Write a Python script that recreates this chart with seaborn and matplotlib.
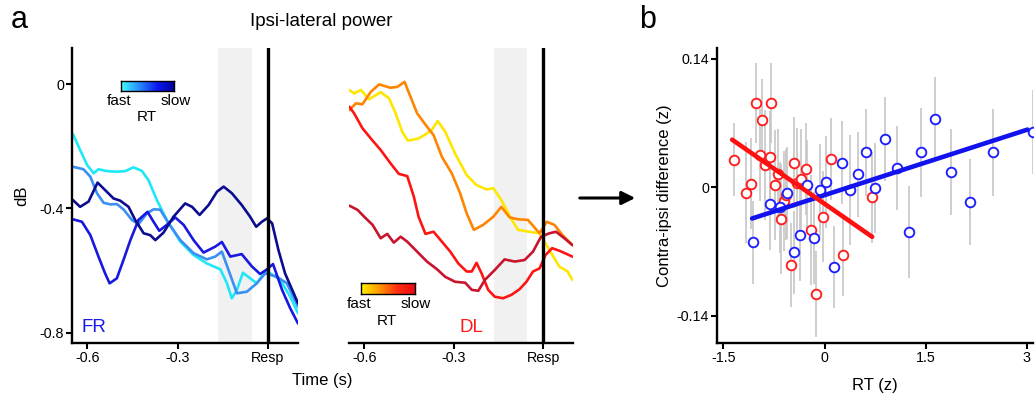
import numpy as np
import pandas as pd
import matplotlib
matplotlib.use("Agg")
import matplotlib.pyplot as plt
from matplotlib.colors import LinearSegmentedColormap
import seaborn as sns

sns.set_style("ticks")
plt.rcParams["font.family"] = ["Liberation Sans", "DejaVu Sans"]
plt.rcParams["axes.unicode_minus"] = False
for key in ["text.color", "axes.labelcolor", "xtick.color", "ytick.color", "axes.edgecolor"]:
    plt.rcParams[key] = "black"

# ---------------- ipsi-lateral power, FR (4 RT bins, fast -> slow) ----------------
fr_t1 = [-0.648, -0.624, -0.601, -0.579, -0.563, -0.535, -0.502, -0.474, -0.447, -0.419,
         -0.397, -0.369, -0.336, -0.291, -0.247, -0.203, -0.158, -0.136, -0.120, -0.103,
         -0.083, -0.059, -0.037, -0.009, 0.008, 0.041, 0.074, 0.100]
fr_db1 = [-0.161, -0.212, -0.260, -0.287, -0.274, -0.280, -0.282, -0.280, -0.268, -0.279,
          -0.309, -0.373, -0.437, -0.507, -0.550, -0.577, -0.596, -0.641, -0.689, -0.662,
          -0.607, -0.625, -0.641, -0.603, -0.609, -0.630, -0.684, -0.737]

fr_t2 = [-0.648, -0.613, -0.590, -0.568, -0.546, -0.524, -0.502, -0.480, -0.452, -0.430,
         -0.402, -0.380, -0.358, -0.330, -0.291, -0.247, -0.203, -0.175, -0.153, -0.131,
         -0.103, -0.070, -0.037, -0.009, 0.030, 0.063, 0.100]
fr_db2 = [-0.266, -0.274, -0.298, -0.351, -0.382, -0.387, -0.386, -0.403, -0.437, -0.451,
          -0.416, -0.403, -0.404, -0.448, -0.502, -0.544, -0.564, -0.555, -0.539, -0.598,
          -0.673, -0.668, -0.641, -0.609, -0.620, -0.641, -0.716]

fr_t3 = [-0.648, -0.618, -0.590, -0.563, -0.541, -0.526, -0.502, -0.480, -0.457, -0.430,
         -0.400, -0.380, -0.361, -0.336, -0.308, -0.280, -0.247, -0.214, -0.175, -0.153,
         -0.125, -0.087, -0.053, -0.026, -0.003, 0.017, 0.047, 0.074, 0.100]
fr_db3 = [-0.435, -0.443, -0.486, -0.555, -0.609, -0.641, -0.625, -0.566, -0.502, -0.437,
          -0.411, -0.443, -0.472, -0.453, -0.429, -0.453, -0.502, -0.542, -0.523, -0.508,
          -0.555, -0.547, -0.587, -0.611, -0.596, -0.579, -0.662, -0.721, -0.770]

fr_t4 = [-0.648, -0.624, -0.596, -0.566, -0.541, -0.513, -0.491, -0.463, -0.441, -0.413,
         -0.391, -0.374, -0.347, -0.314, -0.275, -0.252, -0.227, -0.197, -0.169, -0.147,
         -0.120, -0.087, -0.059, -0.039, -0.020, -0.003, 0.014, 0.035, 0.057, 0.100]
fr_db4 = [-0.373, -0.395, -0.378, -0.317, -0.341, -0.368, -0.375, -0.395, -0.437, -0.480,
          -0.486, -0.502, -0.478, -0.427, -0.384, -0.395, -0.421, -0.389, -0.346, -0.330,
          -0.351, -0.389, -0.427, -0.459, -0.443, -0.432, -0.448, -0.534, -0.609, -0.705]

# ---------------- ipsi-lateral power, DL (4 RT bins, fast -> slow) ----------------
dl_t1 = [-0.650, -0.634, -0.611, -0.584, -0.545, -0.517, -0.495, -0.473, -0.454, -0.418,
         -0.390, -0.373, -0.354, -0.329, -0.296, -0.257, -0.224, -0.190, -0.168, -0.141,
         -0.107, -0.085, -0.047, -0.013, 0.020, 0.053, 0.081, 0.097]
dl_db1 = [-0.019, -0.030, -0.019, -0.049, -0.026, -0.046, -0.094, -0.153, -0.182, -0.175,
          -0.159, -0.146, -0.119, -0.153, -0.223, -0.293, -0.325, -0.339, -0.335, -0.373,
          -0.435, -0.469, -0.475, -0.480, -0.534, -0.587, -0.603, -0.630]

dl_t2 = [-0.650, -0.628, -0.606, -0.578, -0.550, -0.512, -0.489, -0.465, -0.445, -0.423,
         -0.390, -0.368, -0.340, -0.307, -0.279, -0.257, -0.233, -0.202, -0.168, -0.141,
         -0.113, -0.085, -0.052, -0.013, 0.011, 0.037, 0.064, 0.097]
dl_db2 = [-0.084, -0.062, -0.065, -0.025, -0.001, -0.012, -0.009, 0.007, -0.041, -0.094,
          -0.137, -0.164, -0.234, -0.287, -0.351, -0.416, -0.469, -0.453, -0.427, -0.395,
          -0.429, -0.435, -0.437, -0.480, -0.443, -0.453, -0.486, -0.518]

dl_t3 = [-0.650, -0.634, -0.606, -0.578, -0.545, -0.512, -0.484, -0.456, -0.434, -0.418,
         -0.395, -0.368, -0.340, -0.312, -0.285, -0.257, -0.240, -0.224, -0.207, -0.185,
         -0.163, -0.135, -0.107, -0.080, -0.057, -0.035, -0.013, 0.007, 0.029, 0.053, 0.097]
dl_db3 = [-0.073, -0.094, -0.142, -0.175, -0.212, -0.255, -0.289, -0.296, -0.362, -0.427,
          -0.482, -0.475, -0.507, -0.539, -0.577, -0.603, -0.603, -0.575, -0.609, -0.662,
          -0.684, -0.689, -0.678, -0.660, -0.636, -0.603, -0.593, -0.550, -0.528, -0.536, -0.555]

dl_t4 = [-0.650, -0.622, -0.600, -0.572, -0.545, -0.523, -0.501, -0.478, -0.456, -0.423,
         -0.390, -0.356, -0.329, -0.296, -0.262, -0.240, -0.218, -0.196, -0.163, -0.130,
         -0.096, -0.063, -0.035, -0.008, 0.020, 0.042, 0.070, 0.097]
dl_db4 = [-0.391, -0.405, -0.427, -0.453, -0.496, -0.482, -0.510, -0.491, -0.507, -0.539,
          -0.571, -0.596, -0.620, -0.636, -0.639, -0.662, -0.665, -0.630, -0.598, -0.564,
          -0.571, -0.566, -0.539, -0.491, -0.480, -0.475, -0.496, -0.518]

rt_bins = ["1", "2", "3", "4"]
fr_colors = ["#1EE8F8", "#3A8FF2", "#1818E0", "#0C0C8E"]
dl_colors = ["#FFE600", "#FF8400", "#FF1414", "#C8142C"]

window_start, window_end = -0.166, -0.054
time_ticks = [-0.6, -0.3, 0.0]
time_ticklabels = ["-0.6", "-0.3", "Resp"]
db_ticks = [0.0, -0.4, -0.8]
db_ticklabels = ["0", "-0.4", "-0.8"]

# ---------------- contra-ipsi difference vs RT ----------------
red_rt = [-1.346, -1.169, -1.084, -1.010, -0.922, -0.961, -0.877, -0.814, -0.788, -0.729,
          -0.690, -0.651, -0.600, -0.567, -0.503, -0.453, -0.404, -0.345, -0.281, -0.207,
          -0.133, -0.024, 0.089, 0.272, 0.706]
red_diff = [0.030, -0.006, 0.004, 0.092, 0.073, 0.035, 0.024, 0.033, 0.092, 0.002,
            0.014, -0.035, -0.015, -0.008, -0.085, 0.027, 0.005, 0.009, 0.020, -0.047,
            -0.116, -0.032, 0.031, -0.074, -0.011]
red_err = [0.040, 0.055, 0.050, 0.044, 0.045, 0.050, 0.060, 0.050, 0.044, 0.060,
           0.050, 0.060, 0.055, 0.050, 0.046, 0.050, 0.060, 0.055, 0.050, 0.060,
           0.047, 0.050, 0.045, 0.045, 0.050]

blue_rt = [-1.059, -0.803, -0.666, -0.556, -0.459, -0.370, -0.260, -0.163, -0.064, 0.025,
           0.139, 0.257, 0.370, 0.494, 0.621, 0.754, 0.902, 1.075, 1.248, 1.430,
           1.642, 1.874, 2.160, 2.496, 3.097]
blue_diff = [-0.060, -0.018, -0.022, -0.006, -0.071, -0.052, 0.002, -0.055, -0.003, 0.006,
             -0.087, 0.027, -0.003, 0.014, 0.038, -0.001, 0.053, 0.021, -0.049, 0.038,
             0.075, 0.017, -0.016, 0.038, 0.060]
blue_err = [0.045, 0.050, 0.050, 0.050, 0.045, 0.050, 0.050, 0.050, 0.050, 0.050,
            0.045, 0.045, 0.060, 0.046, 0.047, 0.049, 0.046, 0.046, 0.050, 0.049,
            0.045, 0.047, 0.047, 0.047, 0.046]

red_fit_rt = [-1.370, 0.706]
red_fit_diff = [0.052, -0.054]
blue_fit_rt = [-1.074, 3.009]
blue_fit_diff = [-0.034, 0.063]

rt_ticks = [-1.5, 0.0, 1.5, 3.0]
rt_ticklabels = ["-1.5", "0", "1.5", "3"]
diff_ticks = [0.14, 0.0, -0.14]
diff_ticklabels = ["0.14", "0", "-0.14"]


def long_form(times, values):
    frames = []
    for b, t, v in zip(rt_bins, times, values):
        frames.append(pd.DataFrame({"time": t, "db": v, "rt_bin": b}))
    return pd.concat(frames, ignore_index=True)


fr_df = long_form([fr_t1, fr_t2, fr_t3, fr_t4], [fr_db1, fr_db2, fr_db3, fr_db4])
dl_df = long_form([dl_t1, dl_t2, dl_t3, dl_t4], [dl_db1, dl_db2, dl_db3, dl_db4])

W, H = 1035, 396
fig = plt.figure(figsize=(W / 100, H / 100), dpi=100)


def px_axes(x0, x1, y_top, y_bot):
    return fig.add_axes([x0 / W, 1 - y_bot / H, (x1 - x0) / W, (y_bot - y_top) / H])


ax_fr = px_axes(72.3, 298.0, 48.0, 342.7)
ax_dl = px_axes(349.3, 573.3, 48.0, 342.7)
ax_sc = px_axes(717.3, 1033.0, 48.0, 342.7)

tick_kw = dict(labelsize=10.3, length=4, width=1.5, direction="out", pad=2, color="black")
spine_lw = 1.7


def power_panel(ax, df, colors, name, name_color, cmap_colors, cbar_box, lbl_pos):
    ax.axvspan(window_start, window_end, color="#F1F1F1", lw=0, zorder=0)
    sns.lineplot(data=df, x="time", y="db", hue="rt_bin", palette=colors,
                 estimator=None, sort=False, lw=1.9, legend=False, ax=ax, zorder=2)
    ax.axvline(0, color="black", lw=2.4, zorder=3)
    ax.set_xlim(-0.65, 0.10)
    ax.set_ylim(-0.832, 0.116)
    ax.set_xticks(time_ticks)
    ax.set_xticklabels(time_ticklabels)
    ax.set_xlabel("")
    ax.set_ylabel("")
    ax.tick_params(**tick_kw)
    for s in ["top", "right"]:
        ax.spines[s].set_visible(False)
    for s in ["left", "bottom"]:
        ax.spines[s].set_linewidth(spine_lw)
    ax.text(lbl_pos[0], 0.05, name, color=name_color, fontsize=13.5,
            transform=ax.transAxes, ha="left", va="center")
    # RT colour key
    cax = ax.inset_axes(cbar_box)
    cmap = LinearSegmentedColormap.from_list(name + "_rt", cmap_colors)
    cax.imshow(np.linspace(0, 1, 256)[None, :], aspect="auto", cmap=cmap)
    cax.set_xticks([])
    cax.set_yticks([])
    for s in cax.spines.values():
        s.set_linewidth(1.0)
        s.set_color("black")
    x0, y0, w, h = cbar_box
    ax.text(x0 - 0.01, y0 - 0.035, "fast", fontsize=11, ha="center", va="center",
            transform=ax.transAxes)
    ax.text(x0 + w + 0.005, y0 - 0.035, "slow", fontsize=11, ha="center", va="center",
            transform=ax.transAxes)
    ax.text(x0 + w / 2 - 0.005, y0 - 0.09, "RT", fontsize=11, ha="center", va="center",
            transform=ax.transAxes)


power_panel(ax_fr, fr_df, fr_colors, "FR", "#1A1AE6",
            ["#40FFFF", "#2A8CFF", "#0A1AF0", "#00009A"],
            [0.216, 0.855, 0.236, 0.034], (0.042,))
ax_fr.set_yticks(db_ticks)
ax_fr.set_yticklabels(db_ticklabels)
ax_fr.set_ylabel("dB", fontsize=12)
ax_fr.yaxis.set_label_coords(-0.19, 0.5)

power_panel(ax_dl, dl_df, dl_colors, "DL", "#FF1A1A",
            ["#FFF200", "#FF9A00", "#FF3010", "#E80A14"],
            [0.052, 0.165, 0.241, 0.036], (0.494,))
ax_dl.spines["left"].set_visible(False)
ax_dl.set_yticks([])
ax_dl.tick_params(axis="y", left=False, labelleft=False)

# ---------------- scatter panel ----------------
ax = ax_sc
ax.errorbar(red_rt, red_diff, yerr=red_err, fmt="none", ecolor="#C6C6C6",
            elinewidth=1.2, capsize=0, zorder=1)
ax.errorbar(blue_rt, blue_diff, yerr=blue_err, fmt="none", ecolor="#C6C6C6",
            elinewidth=1.2, capsize=0, zorder=1)
sns.scatterplot(x=red_rt, y=red_diff, ax=ax, marker="o", s=48, color="white",
                edgecolor="#FF1E1E", linewidth=1.35, zorder=3, legend=False)
sns.scatterplot(x=blue_rt, y=blue_diff, ax=ax, marker="o", s=48, color="white",
                edgecolor="#1E1EFF", linewidth=1.35, zorder=3, legend=False)
sns.lineplot(x=blue_fit_rt, y=blue_fit_diff, ax=ax, color="#1212EE", lw=3.3, zorder=4)
sns.lineplot(x=red_fit_rt, y=red_fit_diff, ax=ax, color="#FF1010", lw=3.3, zorder=4)
ax.set_xlim(-1.59, 3.09)
ax.set_ylim(-0.1695, 0.152)
ax.set_xticks(rt_ticks)
ax.set_xticklabels(rt_ticklabels)
ax.set_yticks(diff_ticks)
ax.set_yticklabels(diff_ticklabels)
ax.tick_params(**tick_kw)
for s in ["top", "right"]:
    ax.spines[s].set_visible(False)
for s in ["left", "bottom"]:
    ax.spines[s].set_linewidth(spine_lw)
ax.set_xlabel("RT (z)", fontsize=12, labelpad=9)
ax.set_ylabel("Contra-ipsi difference (z)", fontsize=12)
ax.yaxis.set_label_coords(-0.142, 0.5)

# ---------------- figure-level annotations ----------------
fig.text(19 / W, 1 - 20 / H, "a", fontsize=22, ha="center", va="center")
fig.text(648 / W, 1 - 20 / H, "b", fontsize=22, ha="center", va="center")
fig.text(321 / W, 1 - 22 / H, "Ipsi-lateral power", fontsize=13.5, ha="center", va="center")
fig.text(322 / W, 1 - 380 / H, "Time (s)", fontsize=12, ha="center", va="center")
fig.patches.append(matplotlib.patches.FancyArrowPatch(
    (577 / W, 1 - 198 / H), (638 / W, 1 - 198 / H), transform=fig.transFigure,
    arrowstyle="-|>", mutation_scale=20, lw=2.2, color="black"))

fig.savefig("out.png", dpi=100)
